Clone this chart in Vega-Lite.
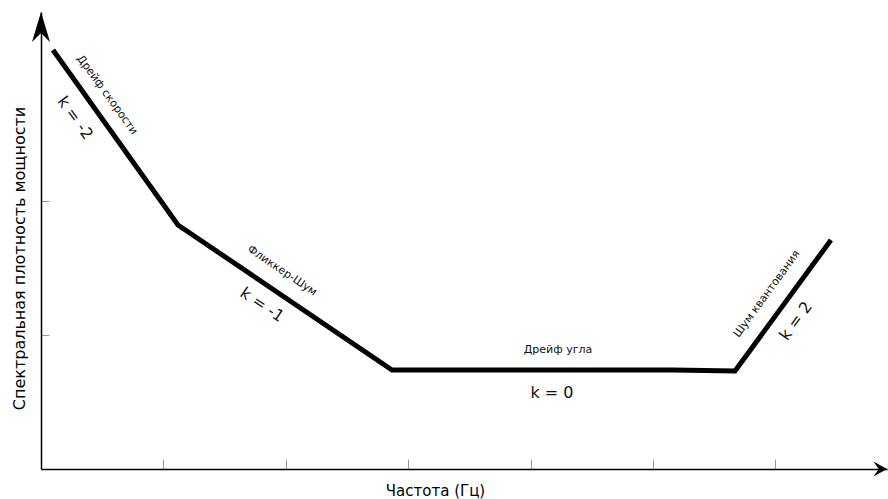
{
  "$schema": "https://vega.github.io/schema/vega-lite/v6.json",
  "width": 846,
  "height": 457,
  "autosize": {"type": "none"},
  "padding": {"left": 41, "top": 12, "right": 1, "bottom": 30},
  "background": "white",
  "config": {"view": {"stroke": null}, "font": "DejaVu Sans"},
  "datasets": {
    "labels": [
      {"x": 0.539, "y": 2.791, "label": "Дрейф скорости", "seg": "a", "kind": "name"},
      {"x": 0.278, "y": 2.619, "label": "k = -2", "seg": "a", "kind": "k"},
      {"x": 1.969, "y": 1.478, "label": "Фликкер-Шум", "seg": "b", "kind": "name"},
      {"x": 1.806, "y": 1.224, "label": "k = -1", "seg": "b", "kind": "k"},
      {"x": 4.224, "y": 0.888, "label": "Дрейф угла", "seg": "c", "kind": "name"},
      {"x": 4.175, "y": 0.567, "label": "k = 0", "seg": "c", "kind": "k"},
      {"x": 5.931, "y": 1.306, "label": "Шум квантования", "seg": "d", "kind": "name"},
      {"x": 6.168, "y": 1.104, "label": "k = 2", "seg": "d", "kind": "k"}
    ]
  },
  "encoding": {
    "x": {
      "field": "x", "type": "quantitative",
      "scale": {"domain": [0, 6.912], "nice": false, "zero": false},
      "axis": {
        "title": "Частота (Гц)", "values": [1, 2, 3, 4, 5, 6], "labels": false, "grid": false,
        "domainColor": "black", "domainWidth": 1.5, "tickColor": "#999999", "tickSize": -10, "tickWidth": 1,
        "titleFont": "DejaVu Sans", "titleFontSize": 15, "titleFontWeight": "normal", "titleColor": "black",
        "titleX": 394, "titleY": 21, "titleBaseline": "middle", "titleAlign": "center"
      }
    },
    "y": {
      "field": "y", "type": "quantitative",
      "scale": {"domain": [0, 3.41], "nice": false, "zero": false},
      "axis": {
        "title": "Спектральная плотность мощности", "values": [1, 2], "labels": false, "grid": false,
        "domainColor": "black", "domainWidth": 1.5, "tickColor": "#999999", "tickSize": -8, "tickWidth": 1,
        "titleFont": "DejaVu Sans", "titleFontSize": 16, "titleFontWeight": "normal", "titleColor": "black",
        "titleX": -22, "titleY": 246, "titleAngle": -90, "titleBaseline": "middle", "titleAlign": "center"
      }
    }
  },
  "layer": [
    {
      "data": {"values": [
        {"x": 0.098, "y": 3.127},
        {"x": 1.119, "y": 1.821},
        {"x": 2.868, "y": 0.739},
        {"x": 5.163, "y": 0.739},
        {"x": 5.670, "y": 0.731},
        {"x": 6.454, "y": 1.709}
      ]},
      "mark": {"type": "line", "color": "black", "strokeWidth": 5, "strokeCap": "butt"}
    },
    {
      "data": {"name": "labels"},
      "transform": [{"filter": "datum.seg === 'a' && datum.kind === 'name'"}],
      "mark": {"type": "text", "font": "DejaVu Sans", "fontSize": 11, "angle": 54, "color": "#111111", "align": "center", "baseline": "middle"},
      "encoding": {"text": {"field": "label"}}
    },
    {
      "data": {"name": "labels"},
      "transform": [{"filter": "datum.seg === 'a' && datum.kind === 'k'"}],
      "mark": {"type": "text", "font": "DejaVu Sans", "fontSize": 16, "angle": 54, "color": "#111111", "align": "center", "baseline": "middle"},
      "encoding": {"text": {"field": "label"}}
    },
    {
      "data": {"name": "labels"},
      "transform": [{"filter": "datum.seg === 'b' && datum.kind === 'name'"}],
      "mark": {"type": "text", "font": "DejaVu Sans", "fontSize": 11, "angle": 34, "color": "#111111", "align": "center", "baseline": "middle"},
      "encoding": {"text": {"field": "label"}}
    },
    {
      "data": {"name": "labels"},
      "transform": [{"filter": "datum.seg === 'b' && datum.kind === 'k'"}],
      "mark": {"type": "text", "font": "DejaVu Sans", "fontSize": 16, "angle": 34, "color": "#111111", "align": "center", "baseline": "middle"},
      "encoding": {"text": {"field": "label"}}
    },
    {
      "data": {"name": "labels"},
      "transform": [{"filter": "datum.seg === 'c' && datum.kind === 'name'"}],
      "mark": {"type": "text", "font": "DejaVu Sans", "fontSize": 11, "angle": 0, "color": "#111111", "align": "center", "baseline": "middle"},
      "encoding": {"text": {"field": "label"}}
    },
    {
      "data": {"name": "labels"},
      "transform": [{"filter": "datum.seg === 'c' && datum.kind === 'k'"}],
      "mark": {"type": "text", "font": "DejaVu Sans", "fontSize": 16, "angle": 0, "color": "#111111", "align": "center", "baseline": "middle"},
      "encoding": {"text": {"field": "label"}}
    },
    {
      "data": {"name": "labels"},
      "transform": [{"filter": "datum.seg === 'd' && datum.kind === 'name'"}],
      "mark": {"type": "text", "font": "DejaVu Sans", "fontSize": 11, "angle": -54, "color": "#111111", "align": "center", "baseline": "middle"},
      "encoding": {"text": {"field": "label"}}
    },
    {
      "data": {"name": "labels"},
      "transform": [{"filter": "datum.seg === 'd' && datum.kind === 'k'"}],
      "mark": {"type": "text", "font": "DejaVu Sans", "fontSize": 16, "angle": -54, "color": "#111111", "align": "center", "baseline": "middle"},
      "encoding": {"text": {"field": "label"}}
    },
    {
      "data": {"values": [{"x": 0, "y": 3.41}]},
      "mark": {"type": "point", "filled": true, "color": "black", "opacity": 1, "size": 900,
        "shape": "M0,0 L0.6,2 L0,1.4 L-0.6,2 Z"}
    },
    {
      "data": {"values": [{"x": 6.912, "y": 0}]},
      "mark": {"type": "point", "filled": true, "color": "black", "opacity": 1, "size": 900,
        "shape": "M0,0 L-0.9,-0.5 L-0.55,0 L-0.9,0.5 Z"}
    }
  ]
}
